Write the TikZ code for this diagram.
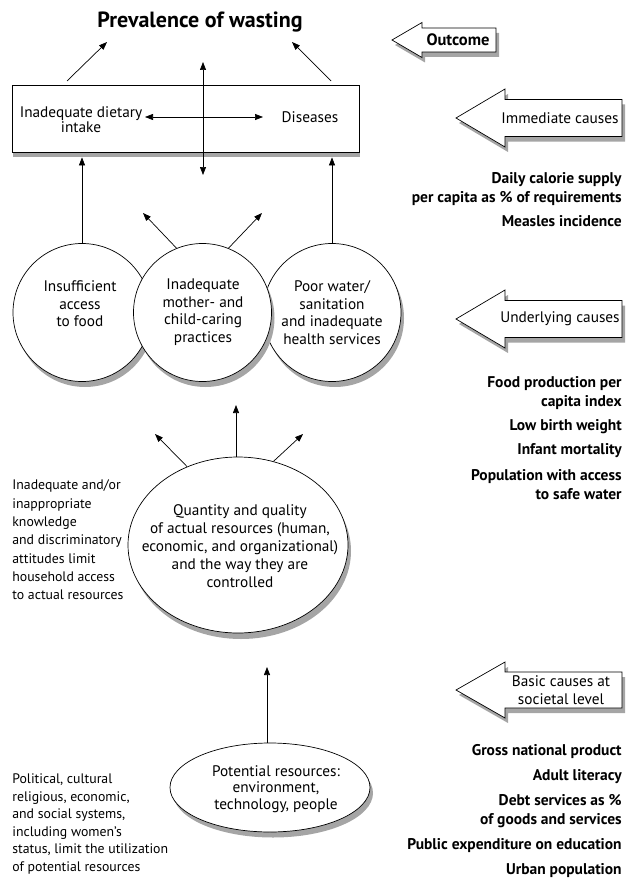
\documentclass[tikz,border=0pt]{standalone}
\usepackage{fontspec}
\setmainfont{PT Sans}
\usepackage{tikz}
\usetikzlibrary{arrows.meta,shapes.geometric}
\definecolor{shadowgray}{RGB}{165,165,165}

\begin{document}
\begin{tikzpicture}[x=1pt, y=-1pt, line width=0.7pt,
        >={Triangle[length=8pt,width=6pt]},
        shadowfill/.style={fill=shadowgray, draw=none},
        causebox/.style={draw, fill=white, inner sep=0pt},
        levelarrow/.style={draw, fill=white},
        txt/.style={font=\fontsize{15.3}{17.5}\selectfont, align=center, inner sep=0pt},
        indicator/.style={font=\fontsize{15.5}{19}\selectfont\bfseries, align=right, inner sep=0pt, anchor=east},
        sidenote/.style={font=\fontsize{13.8}{18.3}\selectfont, align=left, inner sep=0pt, anchor=west}]
        \useasboundingbox (0, 0) rectangle (632, 880);

        % outcome
        \node[font=\fontsize{22}{24}\selectfont\bfseries](title) at (200, 22) {Prevalence of wasting};

        % immediate causes
        \path[shadowfill] (13, 90) rectangle (360, 157);
        \node[causebox, minimum width=347pt, minimum height=67pt](diet) at (185.5, 118.5) {};
        \node[txt, font=\fontsize{15.3}{14.5}\selectfont](intake) at (81, 119.5) {Inadequate dietary\\intake};
        \node[txt](disease) at (310, 117) {Diseases};

        % underlying causes
        \path[shadowfill] (85, 318) circle (69pt);
        \node[causebox, circle, minimum size=138pt](food)   at ( 82, 312.5) {};
        \path[shadowfill] (335, 318) circle (69pt);
        \node[causebox, circle, minimum size=138pt](health) at (332, 312.5) {};
        \path[shadowfill] (205.5, 318) circle (69pt);
        \node[causebox, circle, minimum size=138pt](care)   at (202.5, 312.5) {};
        \node[txt](t1) at ( 80, 304) {Insufficient\\access\\to food};
        \node[txt](t2) at (203, 312) {Inadequate\\mother- and\\child-caring\\practices};
        \node[txt](t3) at (332, 312.5) {Poor water/\\sanitation\\and inadequate\\health services};

        % basic causes
        \path[shadowfill] (241, 551) ellipse [x radius=110pt, y radius=88pt];
        \node[causebox, ellipse, minimum width=220pt, minimum height=176pt](actual) at (238, 545) {};
        \node[txt, font=\fontsize{15.3}{18}\selectfont](t4) at (240, 546)
            {Quantity and quality\\of actual resources (human,\\economic, and organizational)\\and the way they are\\controlled};
        \path[shadowfill] (273, 793) ellipse [x radius=100pt, y radius=44.5pt];
        \node[causebox, ellipse, minimum width=200pt, minimum height=89pt](potent) at (270, 787.5) {};
        \node[txt, font=\fontsize{15.3}{16.5}\selectfont](t5) at (276, 789) {Potential resources:\\environment,\\technology, people};

        \node[sidenote](knowl) at (12, 540) {Inadequate and/or\\inappropriate\\knowledge\\and discriminatory\\attitudes limit\\household access\\to actual resources};
        \node[sidenote, font=\fontsize{13.8}{17.6}\selectfont](systems) at (12, 824) {Political, cultural\\religious, economic,\\and social systems,\\including women's\\status, limit the utilization\\of potential resources};

        % connectors
        \coordinate(tl) at (107, 42);
        \coordinate(tr) at (292, 42);
        \coordinate(bl) at ( 67, 81);
        \coordinate(br) at (331, 81);
        \coordinate(hl) at (145, 117);
        \coordinate(hr) at (263, 117);
        \coordinate(vt) at (203, 62);
        \coordinate(vb) at (203, 175);
        \coordinate(cl) at (143, 213);
        \coordinate(cr) at (262, 213);
        \coordinate(al) at (155, 434);
        \coordinate(am) at (236, 405);
        \coordinate(ar) at (303, 434);
        \coordinate(pa) at (267, 667);

        \draw (bl) edge[->] (tl)
              (br) edge[->] (tr);
        \draw (hl) edge[<->] (hr)
              (vt) edge[<->] (vb);
        \draw (food.north) edge[->, shorten >=5pt] (food.north |- diet.south)
              (health.north) edge[->, shorten >=5pt] (health.north |- diet.south);
        \draw (care.112) edge[->] (cl)
              (care.68) edge[->] (cr);
        \draw (actual.123) edge[->] (al)
              (am |- actual.north) edge[->] (am)
              (actual.67) edge[->] (ar);
        \draw (pa |- potent.north) edge[->] (pa);

        % level arrows
        \path[shadowfill] (395, 45) -- ++(30, -17.5) -- ++(0, 5.5) -- ++(74, 0) -- ++(0, 24) -- ++(-74, 0) -- ++(0, 5.5) -- cycle;
        \draw[levelarrow] (392, 40) -- ++(30, -17.5) -- ++(0, 5.5) -- ++(74, 0) -- ++(0, 24) -- ++(-74, 0) -- ++(0, 5.5) -- cycle;
        \path[shadowfill] (459, 123) -- ++(49, -29) -- ++(0, 10.5) -- ++(117, 0) -- ++(0, 37) -- ++(-117, 0) -- ++(0, 10.5) -- cycle;
        \draw[levelarrow] (456, 118) -- ++(49, -29) -- ++(0, 10.5) -- ++(117, 0) -- ++(0, 37) -- ++(-117, 0) -- ++(0, 10.5) -- cycle;
        \path[shadowfill] (459, 324) -- ++(49, -29) -- ++(0, 10.5) -- ++(117, 0) -- ++(0, 37) -- ++(-117, 0) -- ++(0, 10.5) -- cycle;
        \draw[levelarrow] (456, 319) -- ++(49, -29) -- ++(0, 10.5) -- ++(117, 0) -- ++(0, 37) -- ++(-117, 0) -- ++(0, 10.5) -- cycle;
        \path[shadowfill] (459, 695) -- ++(49, -28) -- ++(0, 10) -- ++(117, 0) -- ++(0, 36) -- ++(-117, 0) -- ++(0, 10) -- cycle;
        \draw[levelarrow] (456, 690) -- ++(49, -28) -- ++(0, 10) -- ++(117, 0) -- ++(0, 36) -- ++(-117, 0) -- ++(0, 10) -- cycle;
        \node[txt, font=\fontsize{16.5}{17}\selectfont\bfseries](outc) at (458, 40) {Outcome};
        \node[txt](immc) at (560, 118) {Immediate causes};
        \node[txt](undc) at (560, 319) {Underlying causes};
        \node[txt, font=\fontsize{15.3}{18}\selectfont](basc) at (561, 690) {Basic causes at\\societal level};

        % indicators
        \node[indicator](kcal) at (622, 189.5) {Daily calorie supply\\per capita as \% of requirements};
        \node[indicator](measles) at (622, 221) {Measles incidence};
        \node[indicator](foodprod) at (622, 393.5) {Food production per\\capita index};
        \node[indicator](lbw) at (622, 427) {Low birth weight};
        \node[indicator](imr) at (622, 451) {Infant mortality};
        \node[indicator](water) at (622, 485) {Population with access\\to safe water};
        \node[indicator](gnp) at (622, 752) {Gross national product};
        \node[indicator](lit) at (622, 777) {Adult literacy};
        \node[indicator](debt) at (622, 811) {Debt services as \%\\of goods and services};
        \node[indicator](educ) at (622, 846) {Public expenditure on education};
        \node[indicator](urban) at (622, 871) {Urban population};

      \end{tikzpicture}
\end{document}
